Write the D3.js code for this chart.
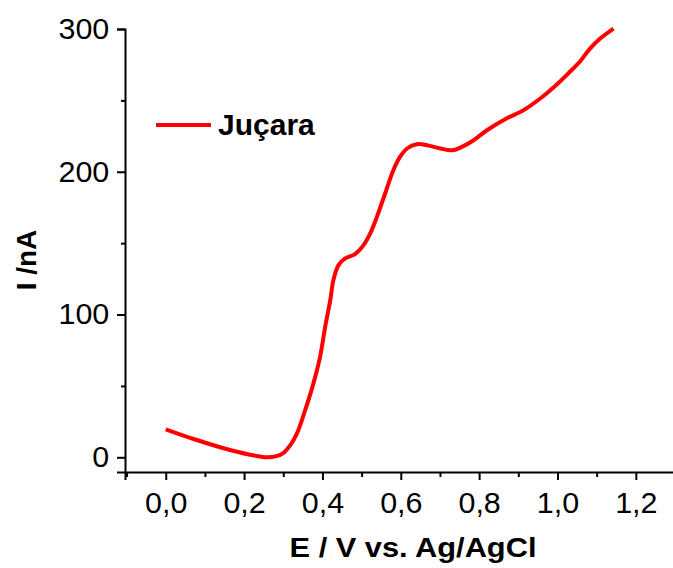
<!DOCTYPE html>
<html>
<head>
<meta charset="utf-8">
<script src="https://cdn.jsdelivr.net/npm/d3@7"></script>
<style>
  body { margin: 0; background: #fff; }
  svg text { font-family: "Liberation Sans", Arial, sans-serif; fill: #000; }
</style>
</head>
<body>
<svg id="chart"></svg>
<script>
// curve: potential (V) and current (nA)
const potential = [0.000, 0.079, 0.164, 0.230, 0.258, 0.280, 0.300, 0.318, 0.335, 0.356, 0.377,
  0.394, 0.407, 0.420, 0.428, 0.441, 0.458, 0.483, 0.505, 0.522, 0.539,
  0.560, 0.581, 0.598, 0.616, 0.641, 0.667, 0.701, 0.731, 0.756, 0.786,
  0.820, 0.871, 0.913, 0.956, 0.999, 1.028, 1.058, 1.083, 1.109, 1.143];
const current = [19.6, 12.1, 5.1, 1.0, 0.0, 0.6, 3.0, 8.5, 16.8, 33.1, 51.8,
  70.4, 91.4, 110.1, 124.1, 134.6, 139.3, 142.3, 148.6, 156.8, 168.4,
  184.8, 201.1, 210.4, 216.3, 219.3, 218.6, 216.3, 215.1, 217.4, 222.1,
  229.1, 237.5, 243.1, 251.3, 261.3, 269.0, 277.4, 286.3, 293.3, 300.3];
const seriesName = 'Juçara';
const xTicks = [0, 0.2, 0.4, 0.6, 0.8, 1.0, 1.2];
const xMinor = [-0.1, 0.1, 0.3, 0.5, 0.7, 0.9, 1.1, 1.3];
const yTicks = [0, 100, 200, 300];
const yMinor = [50, 150, 250];

const W = 673, H = 568;
const margin = { top: 29, right: -2, bottom: 96, left: 125 };
const width = W - margin.left - margin.right;
const height = H - margin.top - margin.bottom;

const svg = d3.select('#chart').attr('width', W).attr('height', H);
const g = svg.append('g').attr('transform', `translate(${margin.left},${margin.top})`);

const x = d3.scaleLinear().domain([-0.104, 1.3]).range([0, width]);
const y = d3.scaleLinear().domain([-10.3, 300]).range([height, 0]);

const commaFmt = d => d3.format('.1f')(d).replace('.', ',');

// x axis
const xAxis = g.append('g').attr('transform', `translate(0,${height})`)
  .call(d3.axisBottom(x).tickValues(xTicks).tickSize(8).tickPadding(12).tickFormat(commaFmt));
g.append('g').attr('transform', `translate(0,${height})`)
  .call(d3.axisBottom(x).tickValues(xMinor).tickSize(5).tickFormat(''))
  .call(a => a.select('.domain').remove());

// y axis
const yAxis = g.append('g')
  .call(d3.axisLeft(y).tickValues(yTicks).tickSize(8).tickPadding(7));
g.append('g')
  .call(d3.axisLeft(y).tickValues(yMinor).tickSize(4).tickFormat(''))
  .call(a => a.select('.domain').remove());

g.selectAll('.domain').attr('stroke', '#000').attr('stroke-width', 2);
g.selectAll('.tick line').attr('stroke', '#000').attr('stroke-width', 2);
g.selectAll('.tick text').style('font-size', '29px');
xAxis.selectAll('.tick text').attr('transform', 'scale(1.05,1)');
yAxis.selectAll('.tick text').attr('transform', 'scale(1.05,1)');

// curve
const pts = potential.map((p, i) => [p, current[i]]);
const line = d3.line().x(d => x(d[0])).y(d => y(d[1])).curve(d3.curveCatmullRom);
g.append('path')
  .datum(pts)
  .attr('fill', 'none')
  .attr('stroke', '#ff0000')
  .attr('stroke-width', 4)
  .attr('d', line);

// legend
svg.append('line')
  .attr('x1', 156).attr('x2', 211).attr('y1', 125).attr('y2', 125)
  .attr('stroke', '#ff0000').attr('stroke-width', 4);
svg.append('text')
  .attr('x', 218).attr('y', 135)
  .style('font-size', '30px').style('font-weight', 'bold')
  .text(seriesName);

// axis titles
svg.append('text')
  .attr('transform', 'translate(36,260) rotate(-90)')
  .attr('text-anchor', 'middle')
  .style('font-size', '28px').style('font-weight', 'bold')
  .text('I /nA');
svg.append('text')
  .attr('x', 413).attr('y', 557)
  .attr('text-anchor', 'middle')
  .style('font-size', '28px').style('font-weight', 'bold')
  .attr('transform', 'translate(413,0) scale(1.1,1) translate(-413,0)')
  .text('E / V vs. Ag/AgCl');
</script>
</body>
</html>
